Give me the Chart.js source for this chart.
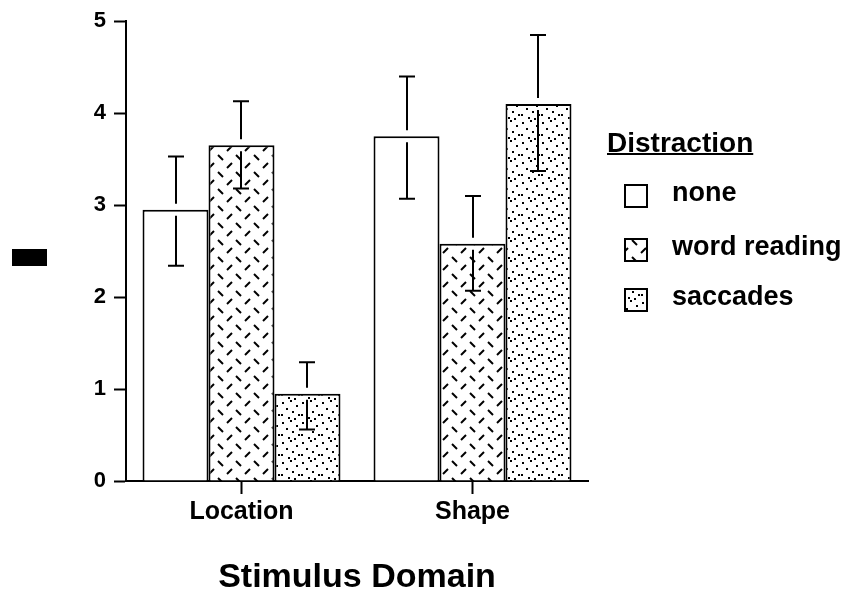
<!DOCTYPE html>
<html>
<head>
<meta charset="utf-8">
<script src="https://cdn.jsdelivr.net/npm/chart.js@4/dist/chart.umd.min.js"></script>
<style>
  html, body { margin: 0; padding: 0; background: #fff; }
  #wrap { width: 851px; height: 600px; position: relative; }
</style>
</head>
<body>
<div id="wrap"><canvas id="c" width="851" height="600"></canvas></div>
<script>
// ---- data ----
const categories = ['Location', 'Shape'];
const seriesNames = ['none', 'word reading', 'saccades'];
const noneMean = [2.95, 3.75];
const noneLow = [2.34, 3.07];
const noneHigh = [3.53, 4.40];
const wordMean = [3.65, 2.58];
const wordLow = [3.18, 2.07];
const wordHigh = [4.13, 3.10];
const saccMean = [0.95, 4.10];
const saccLow = [0.56, 3.37];
const saccHigh = [1.29, 4.85];
const yTicks = [0, 1, 2, 3, 4, 5];
const xTitle = 'Stimulus Domain';
const legendTitle = 'Distraction';

const FONT = "'Liberation Sans', Arial, Helvetica, sans-serif";

// ---- fill patterns ----
function dashPattern() {
  const c = document.createElement('canvas');
  c.width = 18; c.height = 17;
  const g = c.getContext('2d');
  g.fillStyle = '#fff'; g.fillRect(0, 0, 18, 17);
  g.strokeStyle = '#000'; g.lineWidth = 2;
  g.beginPath(); g.moveTo(2, 2); g.lineTo(7, 7); g.stroke();
  g.beginPath(); g.moveTo(11, 15); g.lineTo(16, 10); g.stroke();
  return g.createPattern(c, 'repeat');
}
function dotPattern() {
  const c = document.createElement('canvas');
  c.width = 20; c.height = 20;
  const g = c.getContext('2d');
  g.fillStyle = '#fff'; g.fillRect(0, 0, 20, 20);
  g.fillStyle = '#000';
  [[2,2],[10,0],[16,5],[6,8],[12,11],[18,14],[1,14],[8,17],[14,18]].forEach(p => g.fillRect(p[0], p[1], 2, 2));
  return g.createPattern(c, 'repeat');
}
const fills = ['#ffffff', dashPattern(), dotPattern()];

const errorBars = {
  id: 'errorBars',
  afterDatasetsDraw(chart) {
    const ctx = chart.ctx, ys = chart.scales.y;
    ctx.save();
    ctx.strokeStyle = '#000';
    ctx.lineWidth = 2;
    chart.data.datasets.forEach((ds, i) => {
      const meta = chart.getDatasetMeta(i);
      meta.data.forEach((el, j) => {
        const x = Math.round(el.x);
        const top = el.y;
        const yh = ys.getPixelForValue(ds.errHigh[j]);
        const yl = ys.getPixelForValue(ds.errLow[j]);
        ctx.beginPath();
        ctx.moveTo(x, yh); ctx.lineTo(x, top - 6);
        ctx.moveTo(x, top + 6); ctx.lineTo(x, yl);
        ctx.moveTo(x - 8, yh); ctx.lineTo(x + 8, yh);
        ctx.moveTo(x - 8, yl); ctx.lineTo(x + 8, yl);
        ctx.stroke();
      });
    });
    ctx.restore();
  }
};

const customLegend = {
  id: 'customLegend',
  afterDraw(chart) {
    const ctx = chart.ctx;
    ctx.save();
    ctx.fillStyle = '#000';
    ctx.font = 'bold 28px ' + FONT;
    ctx.textBaseline = 'alphabetic';
    ctx.textAlign = 'left';
    ctx.fillText(legendTitle, 607, 152);
    const w = ctx.measureText(legendTitle).width;
    ctx.fillRect(607, 153, w, 2);
    const rows = [196, 250, 300];
    ctx.font = 'bold 27px ' + FONT;
    ctx.textBaseline = 'middle';
    chart.data.datasets.forEach((ds, i) => {
      const cy = rows[i];
      ctx.fillStyle = ds.backgroundColor;
      ctx.fillRect(624, cy - 12, 24, 24);
      ctx.strokeStyle = '#000';
      ctx.lineWidth = 2;
      ctx.strokeRect(625, cy - 11, 22, 22);
      ctx.fillStyle = '#000';
      ctx.fillText(ds.label, 672, cy - 2);
    });
    // y-axis title block (rendered as solid block in the original)
    ctx.fillStyle = '#000';
    ctx.fillRect(12, 249, 35, 17);
    ctx.restore();
  }
};

const means = [noneMean, wordMean, saccMean];
const lows = [noneLow, wordLow, saccLow];
const highs = [noneHigh, wordHigh, saccHigh];

new Chart(document.getElementById('c'), {
  type: 'bar',
  data: {
    labels: categories,
    datasets: seriesNames.map((name, i) => ({
      label: name,
      data: means[i],
      errLow: lows[i],
      errHigh: highs[i],
      backgroundColor: fills[i],
      borderColor: '#000',
      borderWidth: 2,
      borderSkipped: 'bottom',
      categoryPercentage: 0.857,
      barPercentage: 1.0
    }))
  },
  options: {
    responsive: false,
    animation: false,
    devicePixelRatio: 1,
    layout: { padding: { left: 0, right: 263, top: 20, bottom: 0 } },
    plugins: { legend: { display: false }, tooltip: { enabled: false } },
    scales: {
      x: {
        grid: { display: true, drawOnChartArea: false, offset: false, tickLength: 13, tickWidth: 2, tickColor: '#000' },
        border: { display: true, color: '#000', width: 2 },
        ticks: { color: '#000', padding: 3, font: { family: FONT, size: 25, weight: 'bold' } },
        title: { display: true, text: xTitle, color: '#000', padding: { top: 0, bottom: 2 }, font: { family: FONT, size: 34, weight: 'bold' } },
        afterFit(s) { s.height = 119; }
      },
      y: {
        min: 0, max: 5,
        afterBuildTicks(s) { s.ticks = yTicks.map(v => ({ value: v })); },
        grid: { display: true, drawOnChartArea: false, tickLength: 12, tickWidth: 2, tickColor: '#000' },
        border: { display: true, color: '#000', width: 2 },
        ticks: { color: '#000', padding: 8, font: { family: FONT, size: 22, weight: 'bold' } },
        afterFit(s) { s.width = 126; }
      }
    }
  },
  plugins: [errorBars, customLegend]
});
</script>
</body>
</html>
